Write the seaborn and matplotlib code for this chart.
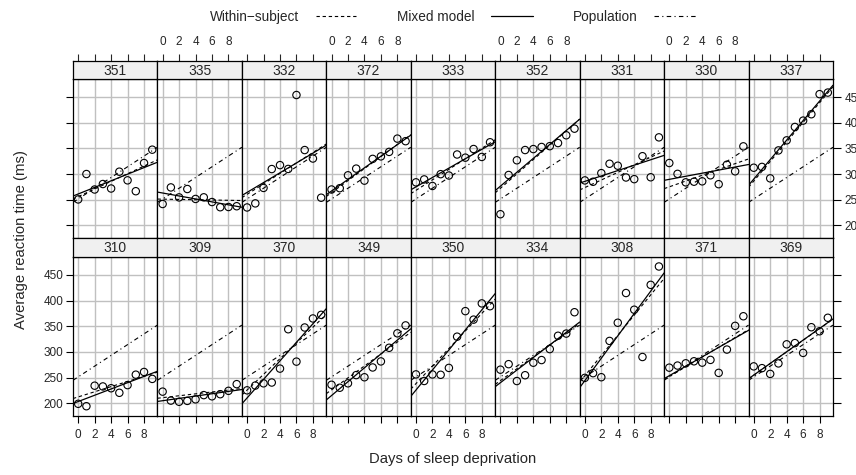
import numpy as np
import pandas as pd
import matplotlib
matplotlib.use('Agg')
import matplotlib.pyplot as plt
import seaborn as sns
from matplotlib.lines import Line2D

# sleep study: reaction time (ms) per subject, days 0-9
days = list(range(10))
r308 = [249.56, 258.70, 250.80, 321.44, 356.85, 414.69, 382.20, 290.15, 430.59, 466.35]
r309 = [222.73, 205.27, 202.98, 204.71, 207.72, 215.96, 213.63, 217.73, 224.30, 237.31]
r310 = [199.05, 194.33, 234.32, 232.84, 229.31, 220.46, 235.42, 255.75, 261.01, 247.52]
r330 = [321.54, 300.40, 283.86, 285.13, 285.80, 297.59, 280.24, 318.26, 305.35, 354.05]
r331 = [287.61, 285.00, 301.82, 320.12, 316.28, 293.32, 290.08, 334.82, 293.75, 371.58]
r332 = [234.86, 242.81, 272.96, 309.77, 317.46, 309.99, 454.16, 346.83, 330.30, 253.86]
r333 = [283.84, 289.56, 276.77, 299.80, 297.17, 338.17, 332.02, 348.84, 333.36, 362.04]
r334 = [265.48, 276.20, 243.36, 254.67, 279.02, 284.19, 305.53, 331.50, 335.75, 377.30]
r335 = [241.61, 273.95, 254.49, 270.84, 251.45, 254.64, 245.45, 235.31, 235.75, 237.25]
r337 = [312.36, 313.94, 291.61, 346.12, 365.73, 391.84, 404.26, 416.69, 455.86, 458.92]
r349 = [236.10, 230.32, 238.92, 254.92, 250.71, 269.78, 281.56, 308.10, 336.28, 351.65]
r350 = [256.29, 243.46, 256.20, 255.53, 268.92, 329.73, 379.44, 362.91, 394.49, 389.05]
r351 = [250.53, 300.06, 269.89, 280.58, 271.83, 304.63, 287.75, 266.56, 321.54, 347.57]
r352 = [221.68, 298.19, 326.88, 346.86, 348.74, 352.83, 354.42, 360.48, 375.64, 388.54]
r369 = [271.92, 268.44, 257.24, 277.66, 314.82, 317.21, 298.14, 348.12, 340.28, 366.51]
r370 = [225.26, 234.52, 238.90, 240.47, 267.54, 344.19, 281.15, 347.59, 365.16, 372.23]
r371 = [269.41, 273.47, 277.90, 281.79, 279.17, 284.51, 259.27, 304.63, 350.78, 369.47]
r372 = [269.88, 272.44, 297.60, 310.63, 287.17, 329.61, 334.48, 343.22, 369.14, 364.12]

subjects = ['308', '309', '310', '330', '331', '332', '333', '334', '335',
            '337', '349', '350', '351', '352', '369', '370', '371', '372']
reactions = [r308, r309, r310, r330, r331, r332, r333, r334, r335,
             r337, r349, r350, r351, r352, r369, r370, r371, r372]
# conditional (mixed model) lines per subject
mixed_intercept = [253.66, 211.01, 212.44, 275.10, 273.67, 260.44, 268.25, 244.17, 251.07,
                   286.30, 226.19, 238.34, 255.98, 272.27, 254.68, 225.79, 252.21, 263.72]
mixed_slope = [19.67, 1.85, 5.02, 5.65, 7.40, 10.20, 10.24, 11.54, -0.28,
               19.10, 11.64, 17.08, 7.45, 14.00, 11.34, 15.29, 9.48, 11.75]
pop_intercept, pop_slope = 251.41, 10.47

top_row = ['351', '335', '332', '372', '333', '352', '331', '330', '337']
bottom_row = ['310', '309', '370', '349', '350', '334', '308', '371', '369']

df = pd.DataFrame({'Subject': np.repeat(subjects, len(days)),
                   'Days': days * len(subjects),
                   'Reaction': np.concatenate(reactions)})
mixed = pd.DataFrame({'a': mixed_intercept, 'b': mixed_slope}, index=subjects)

sns.set_style('white')
plt.rcParams['font.family'] = ['Liberation Sans', 'DejaVu Sans']

W, H = 856, 475
fig = plt.figure(figsize=(W / 100, H / 100), dpi=100)

def box(x, y, w, h):
    return [x / W, 1 - (y + h) / H, w / W, h / H]

left, right = 73, 833
pw = (right - left) / 9
xlim = (-0.63, 9.63)
ylim = (175.3, 485.4)
grid_col = '#c0c0c0'

rows = [(top_row, 61, 79, 238), (bottom_row, 238, 256.7, 416)]
for r, (subs, s_top, p_top, p_bot) in enumerate(rows):
    for c, s in enumerate(subs):
        x0 = left + c * pw
        ax = fig.add_axes(box(x0, p_top, pw, p_bot - p_top))
        sax = fig.add_axes(box(x0, s_top, pw, p_top - s_top))

        sub = df[df.Subject == s]
        ax.set_xlim(xlim)
        ax.set_ylim(ylim)
        ax.set_xticks([0, 2, 4, 6, 8])
        ax.set_yticks(range(200, 451, 50))
        ax.grid(True, color=grid_col, lw=1.0)
        ax.set_axisbelow(True)

        sns.regplot(data=sub, x='Days', y='Reaction', ax=ax, scatter=False, ci=None,
                    truncate=False, color='black', line_kws={'lw': 0.9})
        ax.axline((0, mixed.loc[s, 'a']), slope=mixed.loc[s, 'b'], color='black',
                  lw=0.8, ls=(0, (3, 2.5)))
        ax.axline((0, pop_intercept), slope=pop_slope, color='black', lw=0.8,
                  ls=(0, (4, 3, 1, 3)))
        sns.scatterplot(data=sub, x='Days', y='Reaction', ax=ax, marker='o', s=28,
                        color='none', edgecolor='black', linewidth=0.8, zorder=5)
        ax.set_xlim(xlim)
        ax.set_ylim(ylim)
        ax.set_xlabel('')
        ax.set_ylabel('')
        for sp in ax.spines.values():
            sp.set_color('black')
            sp.set_linewidth(0.9)

        is_bottom = r == 1
        ax.tick_params(axis='both', direction='out', length=5, width=0.8, pad=2,
                       labelsize=8.5, color='black',
                       bottom=is_bottom, labelbottom=is_bottom and c % 2 == 0,
                       top=False, labeltop=False,
                       left=c == 0, labelleft=c == 0 and is_bottom,
                       right=c == 8, labelright=c == 8 and not is_bottom)
        ax.tick_params(axis='x', pad=4)
        if c == 8:
            ax.tick_params(axis='y', which='both', length=6, pad=2.5)

        # strip
        sax.set_facecolor('#f0f0f0')
        sax.set_xlim(xlim)
        sax.set_yticks([])
        sax.set_xticks([0, 2, 4, 6, 8])
        sax.tick_params(axis='x', direction='out', length=5, width=0.8, pad=4,
                        labelsize=8.5, bottom=False, labelbottom=False,
                        top=not is_bottom, labeltop=(not is_bottom) and c % 2 == 1)
        for sp in sax.spines.values():
            sp.set_color('black')
            sp.set_linewidth(0.9)
        sax.text(0.5, 0.45, s, ha='center', va='center', fontsize=10,
                 transform=sax.transAxes)

handles = [Line2D([], [], color='black', lw=0.8, ls=(0, (3, 2.5))),
           Line2D([], [], color='black', lw=0.9, ls='-'),
           Line2D([], [], color='black', lw=0.8, ls=(0, (4, 3, 1, 3)))]
fig.legend(handles, ['Within\u2212subject', 'Mixed model', 'Population'], ncol=3,
           markerfirst=False, frameon=False, loc='center',
           bbox_to_anchor=(453 / W, 1 - 17 / H), handlelength=3.1,
           columnspacing=2.9, handletextpad=1.2, fontsize=9.8)

fig.text(453 / W, 1 - 459 / H, 'Days of sleep deprivation', ha='center', va='center',
         fontsize=10.7)
fig.text(21 / W, 1 - 240 / H, 'Average reaction time (ms)', ha='center', va='center',
         rotation=90, fontsize=10.7)

fig.savefig('out.png', dpi=100)
